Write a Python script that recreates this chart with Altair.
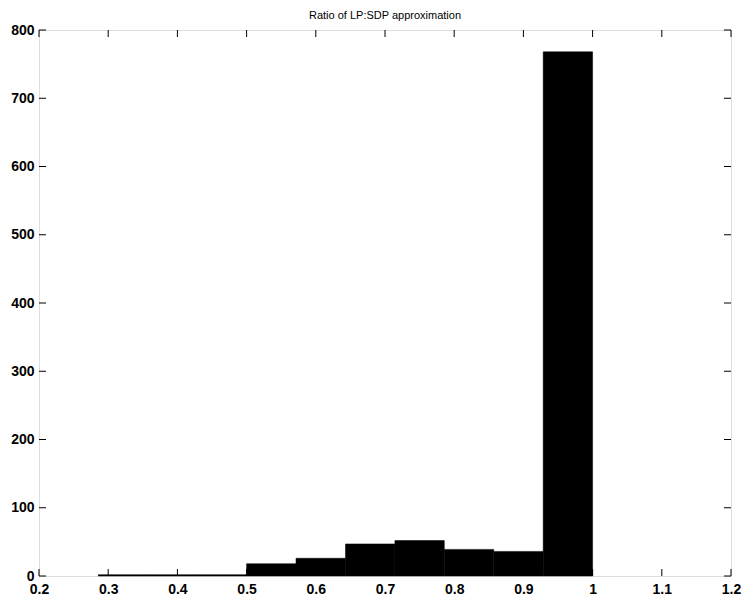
import altair as alt
import pandas as pd

# histogram bins (edges) and counts
bin_lo = [0.2857, 0.3571, 0.4286, 0.5000, 0.5714, 0.6429, 0.7143, 0.7857, 0.8571, 0.9286]
bin_hi = [0.3571, 0.4286, 0.5000, 0.5714, 0.6429, 0.7143, 0.7857, 0.8571, 0.9286, 1.0000]
counts = [2, 2, 2, 18, 26, 47, 52, 39, 36, 768]

x_ticks = [0.2, 0.3, 0.4, 0.5, 0.6, 0.7, 0.8, 0.9, 1.0, 1.1, 1.2]
y_ticks = [0, 100, 200, 300, 400, 500, 600, 700, 800]

W, H = 692, 546
TICK = 7

bars_df = pd.DataFrame({"lo": bin_lo, "hi": bin_hi, "count": counts})
xt_df = pd.DataFrame({"v": x_ticks})
yt_df = pd.DataFrame({"v": y_ticks})

xscale = alt.Scale(domain=[0.2, 1.2], nice=False, zero=False)
yscale = alt.Scale(domain=[0, 800], nice=False)

font = "Liberation Sans"

xaxis = alt.Axis(values=x_ticks, format="~g", title=None, ticks=False, domain=False,
                 grid=False, labelFont=font, labelFontWeight="bold", labelFontSize=14,
                 labelColor="black", labelPadding=6, labelFlush=False)
yaxis = alt.Axis(values=y_ticks, title=None, ticks=False, domain=False, grid=False,
                 labelFont=font, labelFontWeight="bold", labelFontSize=14,
                 labelColor="black", labelPadding=5)

bars = alt.Chart(bars_df).mark_rect(color="black", stroke="black", strokeWidth=0.5).encode(
    x=alt.X("lo:Q", scale=xscale, axis=xaxis),
    x2="hi:Q",
    y=alt.Y("count:Q", scale=yscale, axis=yaxis),
    y2=alt.datum(0),
)

xt_bottom = alt.Chart(xt_df).mark_rule(color="black", strokeWidth=1).encode(
    x=alt.X("v:Q", scale=xscale, title=None),
    y=alt.value(H), y2=alt.value(H - TICK),
)
xt_top = alt.Chart(xt_df).mark_rule(color="black", strokeWidth=1).encode(
    x=alt.X("v:Q", scale=xscale, title=None),
    y=alt.value(0), y2=alt.value(TICK),
)
yt_left = alt.Chart(yt_df).mark_rule(color="black", strokeWidth=1).encode(
    y=alt.Y("v:Q", scale=yscale, title=None),
    x=alt.value(0), x2=alt.value(TICK),
)
yt_right = alt.Chart(yt_df).mark_rule(color="black", strokeWidth=1).encode(
    y=alt.Y("v:Q", scale=yscale, title=None),
    x=alt.value(W), x2=alt.value(W - TICK),
)

chart = alt.layer(bars, xt_bottom, xt_top, yt_left, yt_right).properties(
    width=W, height=H,
    title=alt.TitleParams("Ratio of LP:SDP approximation", font=font, fontSize=11,
                          fontWeight="normal", color="black", anchor="middle", offset=2),
    autosize=alt.AutoSizeParams(type="none"),
    padding={"left": 31, "top": 22, "right": 11, "bottom": 21},
).configure_view(stroke="black", strokeWidth=1).configure(background="white")

chart.save("out.html", embed_options={"renderer": "svg", "actions": False})
